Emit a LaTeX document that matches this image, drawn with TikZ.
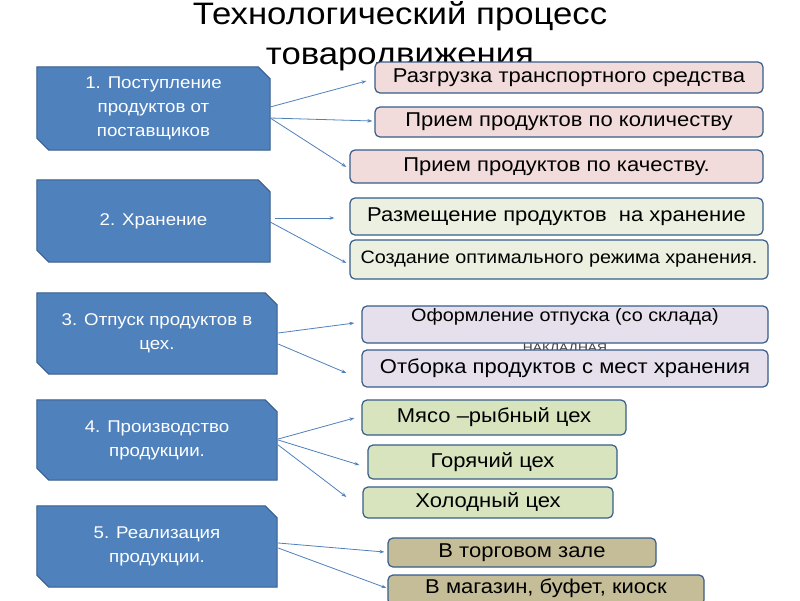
\documentclass[tikz,border=0pt]{standalone}
\usepackage{fontspec}
\setmainfont{Liberation Sans}
\newfontfamily\wfont[FakeStretch=1.1]{Liberation Sans}
\newfontfamily\tfont[FakeStretch=1.12]{Liberation Sans}
\newfontfamily\nfont[FakeStretch=1.25]{Liberation Sans}
\usetikzlibrary{calc,arrows.meta,backgrounds}
\definecolor{bfill}{HTML}{4F81BD}
\definecolor{bline}{HTML}{385D8A}
\definecolor{conn}{HTML}{4F81BD}
\definecolor{pinkf}{HTML}{F2DCDB}
\definecolor{greyg}{HTML}{ECF0E1}
\definecolor{lavf}{HTML}{E5E0EC}
\definecolor{olivef}{HTML}{D7E4BD}
\definecolor{tanf}{HTML}{C4BD97}
\tikzset{
  stagebox/.style={draw=none, fill=none, text=white, align=center, inner sep=0pt,
    font=\wfont\fontsize{17}{24}\selectfont},
  itembox/.style={draw=bline, line width=1.2pt, rounded corners=5pt, inner sep=0pt,
    text=black, align=center, font=\wfont\fontsize{20}{22}\selectfont},
  conline/.style={draw=conn, line width=0.8pt, -{Stealth[length=5pt,width=3.5pt]}},
  snip/.style={fill=bfill, draw=bline, line width=1pt}
}
\newcommand\snipshape[1]{%
  \path[snip] (#1.north west) -- ([xshift=-12pt]#1.north east) -- ([yshift=-12pt]#1.north east)
    -- (#1.south east) -- ([xshift=12pt]#1.south west) -- ([yshift=12pt]#1.south west) -- cycle;}
\begin{document}
\begin{tikzpicture}[x=1pt,y=-1pt]
\useasboundingbox (0,0) rectangle (800,600);
\clip (0,0) rectangle (800,600);

% title
\node[align=center, inner sep=0pt, font=\tfont\fontsize{31}{40}\selectfont] (title) at (400,36.5)
  {Технологический процесс\\товародвижения};

% stage boxes
\node[stagebox, minimum width=233pt, minimum height=83pt] (b1) at (153.5,108.5)
  {1. Поступление\\продуктов от\\поставщиков};
\node[stagebox, minimum width=233pt, minimum height=82pt] (b2) at (153.5,221)
  {2. Хранение};
\node[stagebox, minimum width=240pt, minimum height=81pt] (b3) at (157,333.5)
  {3. Отпуск продуктов в\\цех.};
\node[stagebox, minimum width=240pt, minimum height=80pt] (b4) at (157,440)
  {4. Производство\\продукции.};
\node[stagebox, minimum width=240pt, minimum height=81pt] (b5) at (157,546.5)
  {5. Реализация\\продукции.};
\begin{pgfonlayer}{background}
  \fill[white] (0,0) rectangle (800,600);
  \snipshape{b1}\snipshape{b2}\snipshape{b3}\snipshape{b4}\snipshape{b5}
\end{pgfonlayer}

% item boxes
\node[itembox, fill=pinkf, minimum width=388pt, minimum height=31pt] (p1) at (569,77.5)
  {Разгрузка транспортного средства};
\node[itembox, fill=pinkf, minimum width=388pt, minimum height=30pt] (p2) at (569,122)
  {Прием продуктов по количеству};
\node[itembox, fill=pinkf, minimum width=413pt, minimum height=33pt] (p3) at (556.5,166.5)
  {Прием продуктов по качеству.};
\node[itembox, fill=greyg, minimum width=413pt, minimum height=37pt] (g1) at (556.5,216.5)
  {Размещение продуктов\ \ на хранение};
\node[itembox, fill=greyg, minimum width=418pt, minimum height=39pt,
  font=\wfont\fontsize{18}{20}\selectfont] (g2) at (559,259.5)
  {Создание оптимального режима хранения.};
\node[itembox, fill=lavf, minimum width=406pt, minimum height=37pt,
  font=\wfont\fontsize{18}{20}\selectfont,
  text height=14pt, text depth=20pt] (l1) at (565,324.5)
  {Оформление отпуска (со склада)};
\node[inner sep=0pt, font=\nfont\fontsize{11}{12}\selectfont, text=black!75] (nakl) at (565,349)
  {НАКЛАДНАЯ};
\node[itembox, fill=lavf, minimum width=406pt, minimum height=37pt] (l2) at (565,368.5)
  {Отборка продуктов с мест хранения};
\node[itembox, fill=olivef, minimum width=264pt, minimum height=35pt] (y1) at (494,417.5)
  {Мясо –рыбный цех};
\node[itembox, fill=olivef, minimum width=249pt, minimum height=34pt] (y2) at (492.5,462)
  {Горячий цех};
\node[itembox, fill=olivef, minimum width=250pt, minimum height=31pt] (y3) at (488,502.5)
  {Холодный цех};
\node[itembox, fill=tanf, minimum width=268pt, minimum height=29pt] (t1) at (522,552.5)
  {В торговом зале};
\node[itembox, fill=tanf, minimum width=316pt, minimum height=30pt,
  text height=14pt, text depth=7pt] (t2) at (546,590)
  {В магазин, буфет, киоск};

% connectors
\draw[conline] ($(b1.east)+(0,-1.5)$) -- ($(p1.west)+(-8,3.5)$);
\draw[conline] ($(b1.east)+(0,9.5)$) -- ($(p2.west)+(-2,-1)$);
\draw[conline] ($(b1.east)+(0,9.5)$) -- ($(p3.west)+(-3,0.5)$);
\draw[conline] ($(b2.east)+(5,-3)$) -- ($(g1.west)+(-15,1.5)$);
\draw[conline] ($(b2.east)+(0,1)$) -- ($(g2.west)+(-3,3.5)$);
\draw[conline] ($(b3.east)+(1,-0.5)$) -- ($(l1.west)+(-7,-1.5)$);
\draw[conline] ($(b3.east)+(1,10.5)$) -- ($(l2.west)+(-15,4.5)$);
\draw[conline] ($(b4.east)+(1,-1)$) -- ($(y1.west)+(-7,0.5)$);
\draw[conline] ($(b4.east)+(1,0)$) -- ($(y2.west)+(-8,3)$);
\draw[conline] ($(b4.east)+(1,5)$) -- ($(y3.west)+(-16,-5.5)$);
\draw[conline] ($(b5.east)+(1,-3.5)$) -- ($(t1.west)+(-3,-0.5)$);
\draw[conline] ($(b5.east)+(1,1.5)$) -- ($(t2.west)+(-1,-2)$);
\end{tikzpicture}
\end{document}
